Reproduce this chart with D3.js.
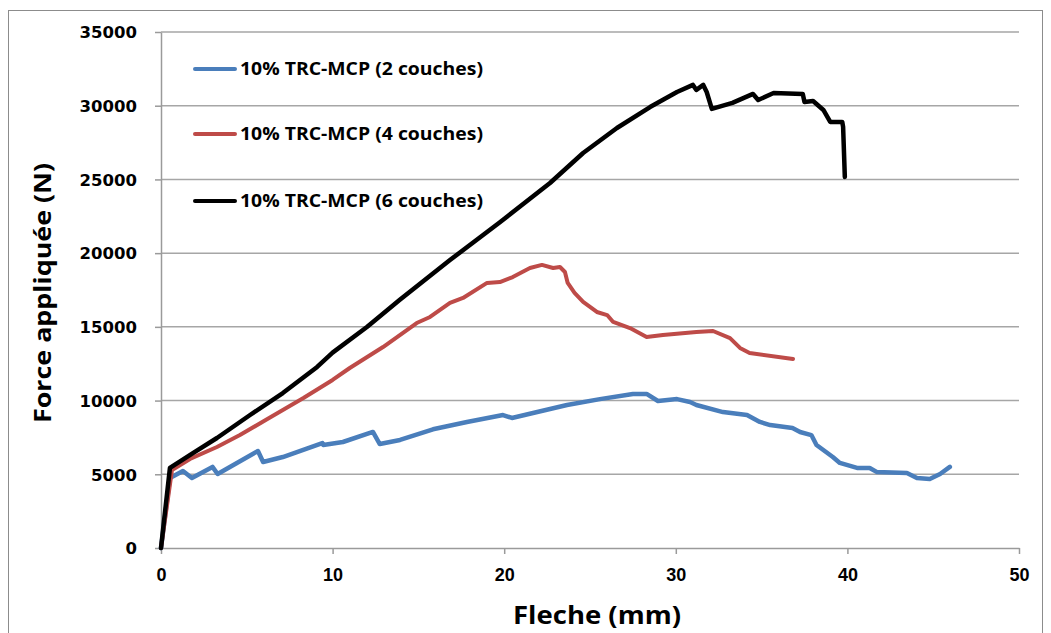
<!DOCTYPE html>
<html>
<head>
<meta charset="utf-8">
<script src="https://cdn.jsdelivr.net/npm/d3@7"></script>
<style>
  body { margin: 0; background: #fff; }
  svg { display: block; }
</style>
</head>
<body>
<div id="chart"></div>
<script>
// values (mm, N)
const seriesNames = ["10% TRC-MCP (2 couches)", "10% TRC-MCP (4 couches)", "10% TRC-MCP (6 couches)"];
const seriesColors = ["#4a7ebb", "#be4b48", "#000000"];

const couches2 = [[0,0],[0.52,4750],[1.28,5220],[1.8,4750],[3.0,5500],[3.3,5020],[5.65,6580],[5.95,5830],
  [7.1,6170],[9.4,7120],[9.45,6990],[10.6,7190],[12.35,7870],[12.75,7050],[13.93,7330],[15.85,8050],
  [17.83,8550],[19.93,9020],[20.45,8820],[21.68,9160],[23.66,9700],[25.58,10100],[27.5,10450],[28.3,10450],
  [28.96,9970],[30.07,10100],[30.83,9900],[31.2,9700],[32.75,9220],[34.15,9020],[34.9,8550],[35.5,8340],
  [36.8,8140],[37.24,7870],[37.9,7660],[38.2,6990],[39.15,6170],[39.56,5770],[40.56,5430],[41.3,5430],
  [41.7,5160],[43.47,5090],[44.05,4750],[44.8,4680],[45.4,5020],[45.97,5500]];

const couches4 = [[0,0],[0.64,5290],[1.69,6040],[3.26,6850],[4.6,7660],[6.2,8750],[8.3,10170],[10,11400],
  [11.0,12210],[12.94,13630],[14.9,15260],[15.68,15670],[16.84,16620],[17.6,16960],[19.0,17980],[19.75,18040],
  [20.5,18380],[21.5,18990],[22.2,19200],[22.85,18990],[23.25,19060],[23.54,18720],[23.7,17980],[24.1,17300],
  [24.6,16690],[25.4,16010],[26.0,15800],[26.35,15330],[27.33,14920],[28.3,14310],[29.25,14450],[31.2,14650],
  [32.17,14720],[33.16,14240],[33.74,13570],[34.3,13230],[36.83,12820]];

const couches6 = [[0,0],[0.52,5430],[1.86,6440],[3.26,7460],[5.19,9020],[7.1,10510],[9.1,12280],[10,13250],
  [12,14990],[13.9,16820],[16.84,19530],[19.75,22100],[22.67,24760],[24.6,26790],[26.57,28490],[28.5,29910],
  [30.07,30930],[31.0,31410],[31.2,31070],[31.6,31410],[31.8,30930],[32.1,29780],[33.3,30190],[34.5,30800],
  [34.8,30390],[35.7,30860],[37.4,30800],[37.5,30250],[38.0,30320],[38.6,29710],[39.0,28900],[39.7,28900],
  [39.75,28560],[39.85,25170]];

const xTicks = [0, 10, 20, 30, 40, 50];
const yTicks = [0, 5000, 10000, 15000, 20000, 25000, 30000, 35000];

const W = 1051, H = 633;
const margin = { top: 32, right: 32, bottom: 85, left: 161 };
const width = W - margin.left - margin.right;
const height = H - margin.top - margin.bottom;

const svg = d3.select("#chart").append("svg")
  .attr("width", W)
  .attr("height", H);

// outer chart border
svg.append("rect")
  .attr("x", 8.5).attr("y", 10.5)
  .attr("width", 1034).attr("height", 700)
  .attr("fill", "none")
  .attr("stroke", "#8c8c8c")
  .attr("stroke-width", 1);

const g = svg.append("g")
  .attr("transform", `translate(${margin.left},${margin.top})`);

const x = d3.scaleLinear().domain([0, 50]).range([0, width]);
const y = d3.scaleLinear().domain([0, 35000]).range([height, 0]);

// gridlines
g.append("g")
  .selectAll("line")
  .data(yTicks.slice(1))
  .enter().append("line")
  .attr("x1", 0).attr("x2", width)
  .attr("y1", d => y(d)).attr("y2", d => y(d))
  .attr("stroke", "#a6a6a6")
  .attr("stroke-width", 1.5);

const xAxis = g.append("g")
  .attr("transform", `translate(0,${height})`)
  .call(d3.axisBottom(x).tickValues(xTicks).tickSize(6).tickSizeOuter(0).tickPadding(14));

const yAxis = g.append("g")
  .call(d3.axisLeft(y).tickValues(yTicks).tickFormat(d3.format("d")).tickSize(6).tickSizeOuter(0).tickPadding(18));

[xAxis, yAxis].forEach(a => {
  a.select(".domain").attr("stroke", "#9a9a9a").attr("stroke-width", 1.5);
  a.selectAll(".tick line").attr("stroke", "#9a9a9a").attr("stroke-width", 1.5);
});

xAxis.selectAll("text")
  .attr("fill", "#000")
  .style("font-family", "'Liberation Sans', Arial, sans-serif")
  .style("font-weight", "bold")
  .style("font-size", "18px");

yAxis.selectAll("text")
  .attr("fill", "#000")
  .attr("dy", "0.35em")
  .style("font-family", "'DejaVu Sans', Verdana, sans-serif")
  .style("font-weight", "bold")
  .style("font-size", "16.5px");

// axis titles
svg.append("text")
  .attr("x", 597)
  .attr("y", 624)
  .attr("text-anchor", "middle")
  .attr("textLength", 168)
  .attr("lengthAdjust", "spacingAndGlyphs")
  .style("font-family", "'Open Sans', sans-serif")
  .style("font-weight", "bold")
  .style("font-size", "25px")
  .text("Fleche (mm)");

svg.append("text")
  .attr("transform", "translate(51,293) rotate(-90)")
  .attr("text-anchor", "middle")
  .attr("textLength", 260)
  .attr("lengthAdjust", "spacingAndGlyphs")
  .style("font-family", "'Open Sans', sans-serif")
  .style("font-weight", "bold")
  .style("font-size", "24px")
  .text("Force appliquée (N)");

// curves
const line = d3.line()
  .x(d => x(d[0]))
  .y(d => y(d[1]))
  .curve(d3.curveLinear);

const allSeries = [couches2, couches4, couches6];
const widths = [4.5, 4, 4.5];

g.selectAll(".curve")
  .data(allSeries)
  .enter().append("path")
  .attr("class", "curve")
  .attr("d", line)
  .attr("fill", "none")
  .attr("stroke", (d, i) => seriesColors[i])
  .attr("stroke-width", (d, i) => widths[i])
  .attr("stroke-linejoin", "round")
  .attr("stroke-linecap", "round");

// legend
const legend = svg.append("g").attr("transform", "translate(195,69)");
const item = legend.selectAll("g")
  .data(seriesNames)
  .enter().append("g")
  .attr("transform", (d, i) => `translate(0,${[0, 65, 132][i]})`);

item.append("line")
  .attr("x1", 0).attr("x2", 40)
  .attr("stroke", (d, i) => seriesColors[i])
  .attr("stroke-width", 4)
  .attr("stroke-linecap", "round");

item.append("text")
  .attr("x", 45)
  .attr("dy", "0.35em")
  .attr("textLength", 243)
  .attr("lengthAdjust", "spacingAndGlyphs")
  .style("font-family", "'Open Sans', sans-serif")
  .style("font-weight", "bold")
  .style("font-size", "17px")
  .text(d => d);
</script>
</body>
</html>
